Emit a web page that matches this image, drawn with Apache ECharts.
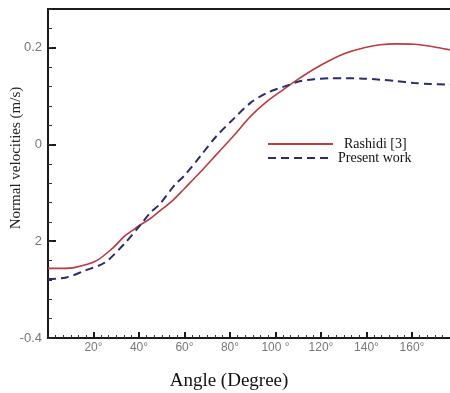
<!DOCTYPE html>
<html lang="en">
<head>
<meta charset="UTF-8">
<title>Normal velocities</title>
<script src="https://cdn.jsdelivr.net/npm/echarts@6/dist/echarts.min.js"></script>
<style>
  html, body { margin: 0; padding: 0; width: 450px; height: 393px; overflow: hidden; background: #fff; }
</style>
</head>
<body>
<div id="chart" style="width:470px;height:393px;"></div>
<script type="text/javascript">
  // values
  var rashidiAngle = [0, 6, 12, 21, 28, 34, 37, 40, 45, 49, 55, 60, 67, 74, 82, 89, 96, 103, 110, 117, 124, 131, 139, 146, 153, 161, 168, 175, 180];
  var rashidiValue = [-0.256, -0.256, -0.254, -0.241, -0.216, -0.188, -0.178, -0.168, -0.153, -0.138, -0.115, -0.091, -0.057, -0.021, 0.020, 0.058, 0.088, 0.112, 0.135, 0.156, 0.174, 0.189, 0.200, 0.206, 0.208, 0.207, 0.203, 0.197, 0.193];
  var presentAngle = [0, 8, 16, 25, 34, 40, 45, 49, 56, 60, 67, 74, 82, 89, 96, 104, 111, 117, 124, 131, 139, 146, 153, 161, 168, 175, 180];
  var presentValue = [-0.278, -0.275, -0.261, -0.244, -0.203, -0.170, -0.141, -0.124, -0.082, -0.064, -0.024, 0.017, 0.055, 0.086, 0.106, 0.120, 0.131, 0.135, 0.137, 0.137, 0.136, 0.134, 0.131, 0.127, 0.125, 0.124, 0.123];

  // tick labels as printed in the figure
  var xTicks = [20, 40, 60, 80, 100, 120, 140, 160];
  var xTickLabels = ['20°', '40°', '60°', '80°', '100 °', '120°', '140°', '160°'];
  var yTicks = [-0.4, -0.2, 0, 0.2];
  var yTickLabels = ['-0.4', '2', '0', '0.2'];

  function pairs(xs, ys) {
    return xs.map(function (x, i) { return [x, ys[i]]; });
  }
  function lookup(ticks, labels, v) {
    for (var i = 0; i < ticks.length; i++) {
      if (Math.abs(ticks[i] - v) < 1e-6) return labels[i];
    }
    return '';
  }

  var myChart = echarts.init(document.getElementById('chart'));
  myChart.setOption({
    animation: false,
    grid: {
      left: 48, top: 9, width: 409.5, height: 329,
      show: true, borderColor: '#1a1a1a', borderWidth: 2, backgroundColor: '#fff'
    },
    legend: [
      {
        data: ['Rashidi [3]'], left: 267, top: 137, padding: 0,
        itemWidth: 65, itemHeight: 14, itemStyle: { opacity: 0 },
        textStyle: { fontFamily: 'Liberation Serif', fontSize: 14, color: '#111', padding: [0, 0, 0, 6] }
      },
      {
        data: ['Present work'], left: 267, top: 151, padding: 0,
        itemWidth: 65, itemHeight: 14, itemStyle: { opacity: 0 },
        textStyle: { fontFamily: 'Liberation Serif', fontSize: 14, color: '#111' }
      }
    ],
    xAxis: {
      type: 'value', min: 0, max: 180, interval: 20,
      axisLine: { onZero: false, lineStyle: { color: '#1a1a1a', width: 2 } },
      axisTick: { inside: true, length: 6, lineStyle: { color: '#1a1a1a', width: 2 } },
      minorTick: { show: true, splitNumber: 6, length: 3, lineStyle: { color: '#333', width: 1 } },
      splitLine: { show: false },
      axisLabel: {
        margin: 4, color: '#777', fontFamily: 'Liberation Sans', fontSize: 12,
        formatter: function (v) { return lookup(xTicks, xTickLabels, v); }
      }
    },
    yAxis: [
      {
        type: 'value', min: -0.4, max: 0.28, interval: 0.2,
        axisLine: { onZero: false, lineStyle: { color: '#1a1a1a', width: 2 } },
        axisTick: { inside: true, length: 8, lineStyle: { color: '#1a1a1a', width: 2 } },
        splitLine: { show: false },
        axisLabel: {
          margin: 6, color: '#777', fontFamily: 'Liberation Sans', fontSize: 13,
          formatter: function (v) { return lookup(yTicks, yTickLabels, v); }
        }
      },
      {
        type: 'value', min: -0.4, max: 0.28, interval: 0.04, position: 'left',
        axisLine: { show: false, onZero: false },
        axisTick: { inside: true, length: 4, lineStyle: { color: '#333', width: 1 } },
        splitLine: { show: false },
        axisLabel: { show: false }
      }
    ],
    graphic: [
      {
        type: 'text', x: 16, y: 158, rotation: Math.PI / 2,
        style: {
          text: 'Normal velocities (m/s)', fontFamily: 'Liberation Serif', fontSize: 15,
          fill: '#222', align: 'center', verticalAlign: 'middle'
        }
      },
      {
        type: 'text', x: 229, y: 381,
        style: {
          text: 'Angle (Degree)', fontFamily: 'Liberation Serif', fontSize: 19,
          fill: '#111', align: 'center', verticalAlign: 'middle'
        }
      }
    ],
    series: [
      {
        name: 'Rashidi [3]', type: 'line', symbol: 'none', smooth: 0.3,
        lineStyle: { color: '#bf3a3a', width: 1.6 },
        itemStyle: { color: '#bf3a3a' },
        data: pairs(rashidiAngle, rashidiValue)
      },
      {
        name: 'Present work', type: 'line', symbol: 'none', smooth: 0.3,
        lineStyle: { color: '#2a2c6c', width: 2, type: [8, 5] },
        itemStyle: { color: '#2a2c6c' },
        data: pairs(presentAngle, presentValue)
      }
    ]
  });
</script>
</body>
</html>
